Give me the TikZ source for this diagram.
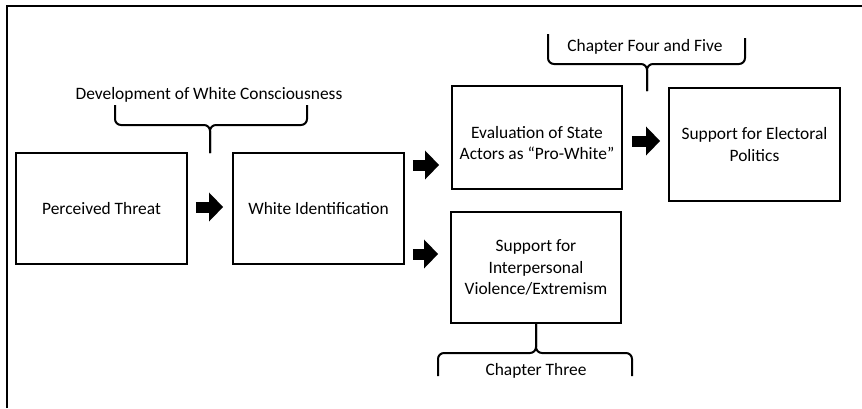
\documentclass[tikz,border=0pt]{standalone}
\usepackage{fontspec}
\setmainfont{Carlito}
\usetikzlibrary{arrows.meta, positioning, calc}

\begin{document}
\begin{tikzpicture}[
    x=1pt, y=-1pt,
    box/.style={rectangle, draw, line width=1.8pt, minimum width=171pt, minimum height=111pt, align=center, font=\fontsize{17.4}{21.5}\selectfont},
    tag/.style={font=\fontsize{17.4}{21}\selectfont},
    fat/.style={line width=11pt, -{Triangle[length=14pt, width=28pt]}},
    brace/.style={line width=2pt, rounded corners=6pt}
]

    % Frame and page size
    \useasboundingbox (0,0) rectangle (862,408);
    \draw[line width=1.2pt] (7,408) -- (7,6) -- (862,6);

    % Main Boxes
    \node[box] (threat) at (101.5,208.5) {Perceived Threat};
    \node[box, minimum width=170pt, minimum height=103pt, text height=45pt] (state) at (537,137.5) {Evaluation of State\\Actors as ``Pro-White''};
    \node[box] (ident) at (318.5,208.5) {White Identification};
    \node[box, minimum height=113pt] (vote) at (754.5,144.5) {Support for Electoral\\Politics};
    \node[box, minimum width=170pt] (violence) at (536,267.5) {Support for\\Interpersonal\\Violence/Extremism};

    % --- Block arrows ---
    \draw[fat, shorten <=8pt, shorten >=9pt] ([yshift=1.5pt]threat.east) -- ([yshift=1.5pt]ident.west);
    \draw[fat, shorten <=8pt, shorten >=12pt] ([yshift=43.5pt]ident.east) -- ([yshift=43.5pt]ident.east -| state.west);
    \draw[fat, shorten <=8pt, shorten >=12pt] ([yshift=-45.5pt]ident.east) -- ([yshift=-45.5pt]ident.east -| violence.west);
    \draw[fat, shorten <=9pt, shorten >=8pt] ([yshift=-3.5pt]state.east) -- ([yshift=-3.5pt]state.east -| vote.west);

    % --- Braces and their labels ---

    % Development of White Consciousness
    \node[tag] (dev) at (209,95) {Development of White Consciousness};
    \draw[brace] (115,105) |- (210,125) -- (210,153);
    \draw[brace] (307,105) |- (210,125) -- (210,153);

    % Chapter Four and Five
    \node[tag] (ch45) at (645,47) {Chapter Four and Five};
    \draw[brace] (548,34) |- (647,64) -- (647,91);
    \draw[brace] (745,38) |- (647,64) -- (647,91);

    % Chapter Three
    \node[tag] (ch3) at (536,371) {Chapter Three};
    \draw[brace] (438,376) |- (536,353) -- (violence.south);
    \draw[brace] (632,376) |- (536,353) -- (violence.south);

\end{tikzpicture}
\end{document}
